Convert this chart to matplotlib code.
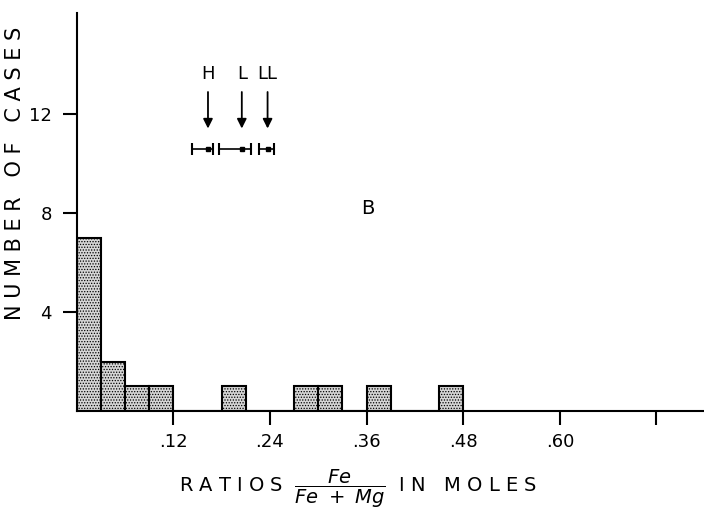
import numpy as np
import matplotlib
matplotlib.use("Agg")
import matplotlib.pyplot as plt

plt.rcParams['font.family'] = ['DejaVu Sans']
plt.rcParams['mathtext.fontset'] = 'dejavusans'
plt.rcParams['hatch.linewidth'] = 0.6

# histogram of Fe/(Fe+Mg) ratios, bins of 0.03
bin_edges = np.arange(0.0, 0.481, 0.03)
counts = [7, 2, 1, 1, 0, 0, 1, 0, 0, 1, 1, 0, 1, 0, 0, 1]

xticks = [0.12, 0.24, 0.36, 0.48, 0.60, 0.72]
xticklabels = [".12", ".24", ".36", ".48", ".60", ""]
yticks = [4, 8, 12]

# H, L, LL markers: arrow position and range
marks = ["H", "L", "LL"]
mark_x = [0.163, 0.205, 0.237]
mark_lo = [0.143, 0.177, 0.226]
mark_hi = [0.169, 0.217, 0.245]

fig = plt.figure(figsize=(7.04, 5.09), dpi=100)
ax = fig.add_axes([0.109, 0.1925, 0.891, 0.782])

ax.bar(bin_edges[:-1], counts, width=0.03, align='edge',
       facecolor='#d6d6d6', edgecolor='black', linewidth=1.5, hatch='......')

ax.set_xlim(0, 0.779)
ax.set_ylim(0, 16.08)
for s in ['top', 'right']:
    ax.spines[s].set_visible(False)
for s in ['left', 'bottom']:
    ax.spines[s].set_linewidth(1.5)

ax.set_xticks(xticks)
ax.set_xticklabels(xticklabels)
ax.set_yticks(yticks)
ax.tick_params(axis='x', length=10, width=1.5, pad=6, labelsize=13)
ax.tick_params(axis='y', length=10, width=1.5, pad=8, labelsize=13)

ax.set_ylabel("N U M B E R   O F   C A S E S", fontsize=15)
ax.yaxis.set_label_coords(-0.082, 0.598)
ax.set_xlabel(r"R A T I O S  $\dfrac{Fe}{Fe\ +\ Mg}$  I N   M O L E S", fontsize=14)
ax.xaxis.set_label_coords(0.448, -0.143)

for name, xm, lo, hi in zip(marks, mark_x, mark_lo, mark_hi):
    ax.text(xm, 13.6, name, ha='center', va='center', fontsize=13)
    ax.annotate("", xy=(xm, 11.3), xytext=(xm, 13.0),
                arrowprops=dict(arrowstyle='-|>', color='black', lw=1.3,
                                mutation_scale=14))
    ax.errorbar([xm], [10.6], xerr=[[xm - lo], [hi - xm]], fmt='s',
                color='black', ms=3, capsize=4, elinewidth=1.2, capthick=1.5)

ax.text(0.362, 8.2, "B", ha='center', va='center', fontsize=14)

fig.savefig("out.png", dpi=100)
